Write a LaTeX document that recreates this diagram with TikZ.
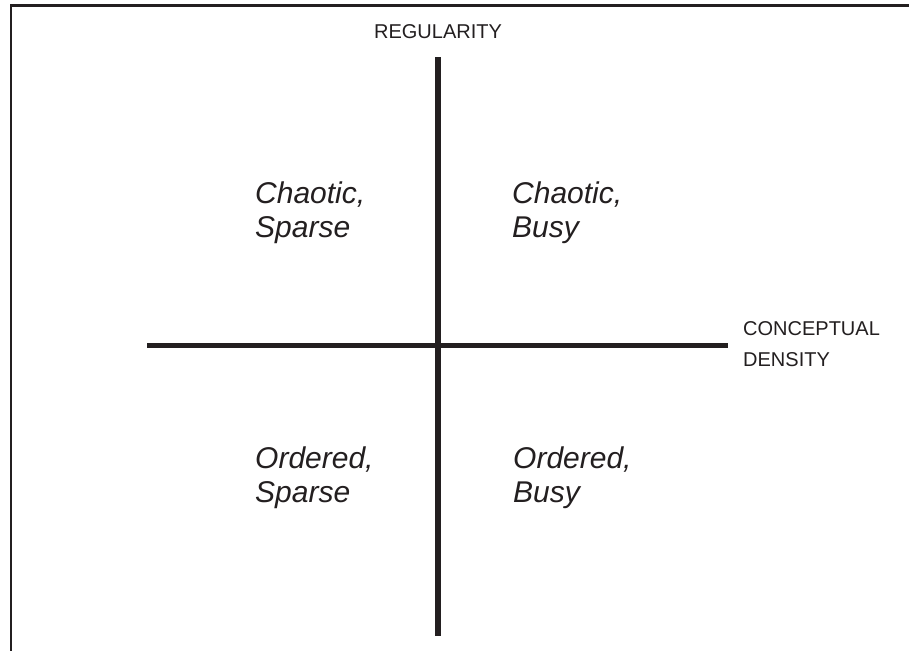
\documentclass[tikz,border=0pt]{standalone}
\usepackage{fontspec}
\setmainfont{Liberation Sans}
\definecolor{ink}{HTML}{231F20}
\begin{document}
\begin{tikzpicture}[x=1pt,y=-1pt,
  frame/.style={draw=ink,line width=2.8pt},
  axis/.style={draw=ink,line width=5.5pt},
  axislabel/.style={inner sep=0pt,font=\fontsize{20}{31}\selectfont,text=ink},
  quadlabel/.style={inner sep=0pt,align=left,anchor=base west,
    font=\itshape\fontsize{30}{34}\selectfont,text=ink}]
  \useasboundingbox (0,0) rectangle (909,651);
  \fill[white] (0,0) rectangle (909,651);
  % outer frame: top and left edges only
  \coordinate (fTR) at (909,5.8);
  \coordinate (fTL) at (11,5.8);
  \coordinate (fBL) at (11,651);
  \draw[frame] (fTR) -- (fTL) -- (fBL);
  % axes
  \coordinate (vTop) at (438,57);
  \coordinate (vBot) at (438,636);
  \coordinate (hL) at (147,345.5);
  \coordinate (hR) at (728,345.5);
  \draw[axis] (vTop) -- (vBot);
  \draw[axis] (hL) -- (hR);
  % axis labels (base anchor sits on the last line)
  \node[axislabel,anchor=base] (reg) at (438,38) {REGULARITY};
  \node[axislabel,anchor=base west,align=left] (dens) at (743,366)
    {CONCEPTUAL\\DENSITY};
  % quadrant labels
  \node[quadlabel] (cs) at (255,237) {Chaotic,\\Sparse};
  \node[quadlabel] (cb) at (512,237) {Chaotic,\\Busy};
  \node[quadlabel] (os) at (255,502) {Ordered,\\Sparse};
  \node[quadlabel] (ob) at (513,502) {Ordered,\\Busy};
\end{tikzpicture}
\end{document}
